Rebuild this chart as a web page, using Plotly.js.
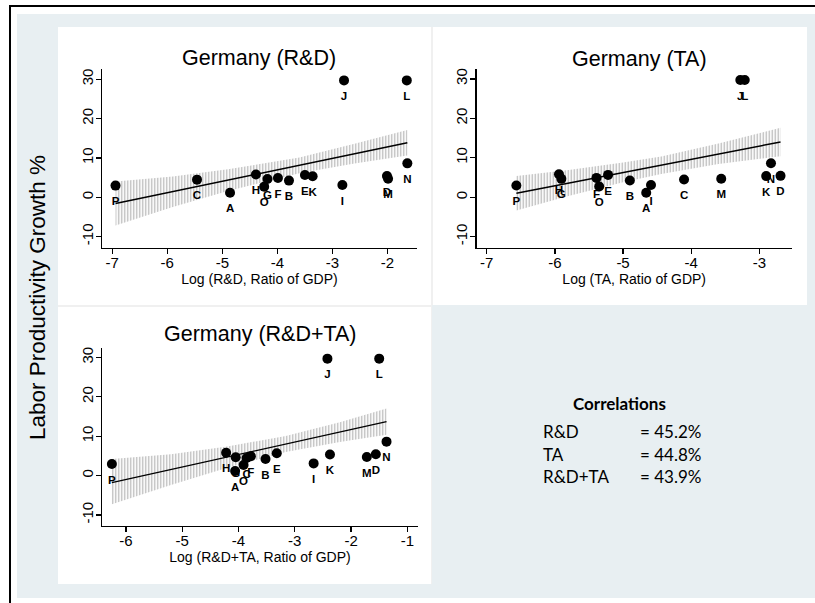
<!DOCTYPE html>
<html>
<head>
<meta charset="utf-8">
<script src="https://cdn.plot.ly/plotly-3.0.1.min.js"></script>
<style>
html,body{margin:0;padding:0;background:#fff;}
#chart{width:815px;height:603px;}
</style>
</head>
<body>
<div id="chart"></div>
<script>
// ---- data ----
const industries = ['A','B','C','D','E','F','G','H','I','J','K','L','M','N','O','P'];
const growth     = [1.15, 4.23, 4.48, 5.41, 5.66, 4.9, 4.65, 5.8, 3.1, 29.7, 5.35, 29.7, 4.7, 8.62, 2.7, 2.96];
const logRD      = [-4.86,-3.79,-5.46,-2.01,-3.50,-3.99,-4.18,-4.39,-2.82,-2.79,-3.36,-1.65,-1.99,-1.64,-4.24,-6.94];
const logTA      = [-4.66,-4.90,-4.105,-2.69,-5.22,-5.39,-5.905,-5.94,-4.59,-3.28,-2.90,-3.215,-3.56,-2.83,-5.35,-6.565];
const logRDTA    = [-4.06,-3.52,-3.855,-1.56,-3.32,-3.78,-4.05,-4.22,-2.665,-2.42,-2.375,-1.50,-1.72,-1.37,-3.91,-6.25];

// fitted lines (end points) and confidence bands
const fitX_RD = [-6.94, -1.64],  fitY_RD = [-1.6, 13.86];
const bandX_RD  = [-6.94, -5.9, -4.9, -3.6, -2.6, -1.64];
const bandHi_RD = [4.0, 5.3, 7.1, 10.1, 13.6, 17.1];
const bandLo_RD = [-7.2, -2.5, 1.6, 6.1, 8.6, 10.6];

const fitX_TA = [-6.565, -2.69], fitY_TA = [1.0, 14.0];
const bandX_TA  = [-6.565, -5.8, -5.0, -4.44, -3.6, -2.69];
const bandHi_TA = [5.4, 6.9, 8.8, 10.3, 13.6, 17.6];
const bandLo_TA = [-3.4, 0.3, 3.8, 5.9, 8.4, 10.4];

const fitX_RDTA = [-6.25, -1.37], fitY_RDTA = [-1.8, 13.7];
const bandX_RDTA  = [-6.25, -5.2, -4.2, -3.16, -2.2, -1.37];
const bandHi_RDTA = [4.2, 5.43, 7.41, 10.06, 13.56, 17.05];
const bandLo_RDTA = [-7.3, -2.37, 2.01, 5.96, 8.56, 10.35];

const panelTitles = ['Germany (R&D)', 'Germany (TA)', 'Germany (R&D+TA)'];
const xTitles = ['Log (R&D, Ratio of GDP)', 'Log (TA, Ratio of GDP)', 'Log (R&D+TA, Ratio of GDP)'];
const yTitle = 'Labor Productivity Growth %';
const yTicks = [-10, 0, 10, 20, 30];
const xTicks_RD = [-7, -6, -5, -4, -3, -2];
const xTicks_TA = [-7, -6, -5, -4, -3];
const xTicks_RDTA = [-6, -5, -4, -3, -2, -1];
const corrLabels = ['R&D', 'TA', 'R&D+TA'];
const corrValues = [45.2, 44.8, 43.9];

// ---- layout helpers ----
const W = 815, H = 603;
const px = x => x / W;
const py = y => 1 - y / H;
const FONT = 'Liberation Sans, Arial, sans-serif';

function panelTraces(xs, bx, bhi, blo, fx, fy, xa, ya) {
  return [
    {
      type: 'scatter', mode: 'lines', xaxis: xa, yaxis: ya,
      x: bx.concat(bx.slice().reverse()),
      y: bhi.concat(blo.slice().reverse()),
      fill: 'toself', fillcolor: 'rgba(0,0,0,0)',
      fillpattern: {shape: '|', size: 3, solidity: 0.4, fgcolor: '#b4b4b4', bgcolor: 'rgba(0,0,0,0)'},
      line: {width: 0}, hoverinfo: 'skip', showlegend: false
    },
    {
      type: 'scatter', mode: 'lines', xaxis: xa, yaxis: ya,
      x: fx, y: fy, line: {color: 'black', width: 1.4}, showlegend: false
    },
    {
      // labels (placed below a larger invisible marker so they sit lower)
      type: 'scatter', mode: 'markers+text', xaxis: xa, yaxis: ya,
      x: xs, y: growth, text: industries, textposition: 'bottom center',
      textfont: {family: FONT, size: 11.5, color: 'black', weight: 'bold'},
      marker: {size: 16, color: 'rgba(0,0,0,0)'}, showlegend: false
    },
    {
      type: 'scatter', mode: 'markers', xaxis: xa, yaxis: ya,
      x: xs, y: growth,
      marker: {size: 10, color: 'black'}, showlegend: false
    }
  ];
}

const data = [].concat(
  panelTraces(logRD, bandX_RD, bandHi_RD, bandLo_RD, fitX_RD, fitY_RD, 'x', 'y'),
  panelTraces(logTA, bandX_TA, bandHi_TA, bandLo_TA, fitX_TA, fitY_TA, 'x2', 'y2'),
  panelTraces(logRDTA, bandX_RDTA, bandHi_RDTA, bandLo_RDTA, fitX_RDTA, fitY_RDTA, 'x3', 'y3')
);

function xAxis(dom, rng, ticks, title, anchor) {
  return {
    domain: dom, range: rng, anchor: anchor, tickvals: ticks, ticktext: ticks.map(String),
    showline: true, linecolor: 'black', linewidth: 1.3,
    ticks: 'outside', ticklen: 5, tickwidth: 1.3, tickcolor: 'black', ticklabelstandoff: -4,
    showgrid: false, zeroline: false,
    tickfont: {family: FONT, size: 15, color: 'black'},
    title: {text: title, font: {family: FONT, size: 14, color: 'black'}, standoff: 0}
  };
}
function yAxis(dom, rng, anchor) {
  return {
    domain: dom, range: rng, anchor: anchor, tickvals: yTicks, ticktext: yTicks.map(String), tickangle: -90,
    showline: true, linecolor: 'black', linewidth: 1.3,
    ticks: 'outside', ticklen: 5, tickwidth: 1.3, tickcolor: 'black', ticklabelstandoff: -3,
    showgrid: false, zeroline: false,
    tickfont: {family: FONT, size: 15, color: 'black'}
  };
}

const shapes = [
  {type: 'rect', xref: 'paper', yref: 'paper', x0: px(17), x1: px(815), y0: py(598), y1: py(14), fillcolor: '#e8eff2', line: {width: 0}, layer: 'below'},
  {type: 'rect', xref: 'paper', yref: 'paper', x0: px(58), x1: px(807), y0: py(305), y1: py(27), fillcolor: '#f0f0f0', line: {width: 0}, layer: 'below'},
  {type: 'rect', xref: 'paper', yref: 'paper', x0: px(58), x1: px(432), y0: py(584), y1: py(305), fillcolor: '#f0f0f0', line: {width: 0}, layer: 'below'},
  {type: 'rect', xref: 'paper', yref: 'paper', x0: px(58), x1: px(431), y0: py(305), y1: py(27), fillcolor: 'white', line: {width: 0}, layer: 'below'},
  {type: 'rect', xref: 'paper', yref: 'paper', x0: px(433), x1: px(807), y0: py(305), y1: py(27), fillcolor: 'white', line: {width: 0}, layer: 'below'},
  {type: 'rect', xref: 'paper', yref: 'paper', x0: px(58), x1: px(431), y0: py(584), y1: py(307), fillcolor: 'white', line: {width: 0}, layer: 'below'},
  {type: 'line', xref: 'paper', yref: 'paper', x0: px(10), x1: px(10), y0: 0, y1: py(5), line: {color: 'black', width: 2}},
  {type: 'line', xref: 'paper', yref: 'paper', x0: px(9), x1: 1, y0: py(6), y1: py(6), line: {color: 'black', width: 2}}
];

const annotations = [
  {text: panelTitles[0], x: px(259), y: py(58)},
  {text: panelTitles[1], x: px(639), y: py(59)},
  {text: panelTitles[2], x: px(260), y: py(334)}
].map(a => Object.assign(a, {xref: 'paper', yref: 'paper', showarrow: false, xanchor: 'center', yanchor: 'middle',
  font: {family: FONT, size: 21.5, color: 'black'}}));

annotations.push({text: yTitle, x: px(37), y: py(298), xref: 'paper', yref: 'paper', showarrow: false,
  textangle: -90, xanchor: 'center', yanchor: 'middle', font: {family: FONT, size: 22.5, color: 'black'}});

const CFONT = 'Lato, Open Sans, sans-serif';
annotations.push({text: '<b>Correlations</b>', x: px(619), y: py(404), xref: 'paper', yref: 'paper', showarrow: false,
  xanchor: 'center', yanchor: 'middle', font: {family: CFONT, size: 17, color: 'black'}});
const rowY = [431, 454, 477];
corrLabels.forEach((lab, i) => {
  annotations.push({text: lab, x: px(541), y: py(rowY[i]), xref: 'paper', yref: 'paper', showarrow: false,
    xanchor: 'left', yanchor: 'middle', font: {family: CFONT, size: 17, color: 'black'}});
  annotations.push({text: '= ' + corrValues[i].toFixed(1) + '%', x: px(638), y: py(rowY[i]), xref: 'paper', yref: 'paper', showarrow: false,
    xanchor: 'left', yanchor: 'middle', font: {family: CFONT, size: 17, color: 'black'}});
});

const layout = {
  width: W, height: H, margin: {l: 0, r: 0, t: 0, b: 0},
  paper_bgcolor: 'white', plot_bgcolor: 'white', showlegend: false,
  xaxis:  xAxis([px(102.3), px(416.7)], [-7.18, -1.47], xTicks_RD, xTitles[0], 'y'),
  yaxis:  yAxis([py(248), py(69)], [-12.9, 32.6], 'x'),
  xaxis2: xAxis([px(476.7), px(791.7)], [-7.147, -2.526], xTicks_TA, xTitles[1], 'y2'),
  yaxis2: yAxis([py(247.7), py(69)], [-12.8, 32.5], 'x2'),
  xaxis3: xAxis([px(102.3), px(417.7)], [-6.42, -0.816], xTicks_RDTA, xTitles[2], 'y3'),
  yaxis3: yAxis([py(526), py(348)], [-12.8, 32.4], 'x3'),
  shapes: shapes, annotations: annotations
};

Plotly.newPlot('chart', data, layout, {staticPlot: true, displayModeBar: false});
</script>
</body>
</html>
